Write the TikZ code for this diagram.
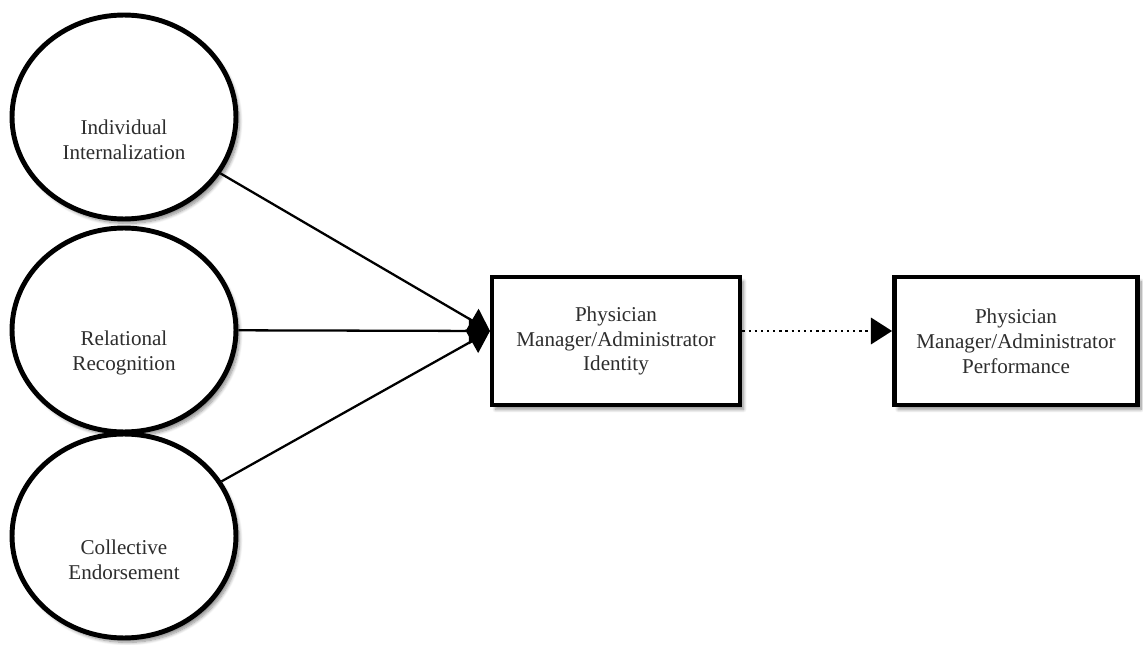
\documentclass[tikz,border=0pt]{standalone}
\usepackage{fontspec}
\setmainfont{Liberation Serif}
\usetikzlibrary{positioning,shapes.geometric,arrows.meta,shadows.blur}
\definecolor{TextGray}{RGB}{45,45,45}
\tikzset{
	softshadow/.style={blur shadow={shadow xshift=2pt,shadow yshift=-2.5pt,shadow opacity=45,shadow blur steps=8}},
	construct/.style={ellipse,draw,line width=2.8pt,fill=white,minimum width=4.48cm,minimum height=4.08cm,softshadow},
	ctext/.style={align=center,text=TextGray,font=\fontsize{12}{14.2}\selectfont},
	outcome/.style={rectangle,draw,line width=2.8pt,fill=white,minimum height=2.56cm,align=center,text=TextGray,font=\fontsize{12}{14.2}\selectfont,softshadow},
	path/.style={line width=1.3pt,-{Triangle[length=12pt,width=15pt]}}
}

\begin{document}
\begin{tikzpicture}[x=0.02cm,y=-0.02cm]
			\useasboundingbox (0,0) rectangle (1143,645);
			\node [construct] (ii) at (124,117) {};
			\node [construct] (rr) at (124,330) {};
			\node [construct] (ce) at (124,536) {};
			\node [ctext] (iit) at (124,140) {Individual\\Internalization};
			\node [ctext] (rrt) at (124,353) {Relational\\Recognition};
			\node [ctext] (cet) at (124,560) {Collective\\Endorsement};
			\node [outcome,minimum width=4.96cm] (idn) at (616,341) {Physician\\Manager/Administrator\\Identity};
			\node [outcome,minimum width=4.86cm] (prf) at (1016,341) {Physician\\Manager/Administrator\\Performance};
			\coordinate (idin) at (490,331);
			\draw [path] (ii) -- (idin);
			\draw [path] (rr) -- (idin);
			\draw [path] (ce) -- (idin);
			\draw [path,dash pattern=on 1.3pt off 2.2pt] (idn.east |- idin) -- (prf.west |- idin);
		\end{tikzpicture}
\end{document}
